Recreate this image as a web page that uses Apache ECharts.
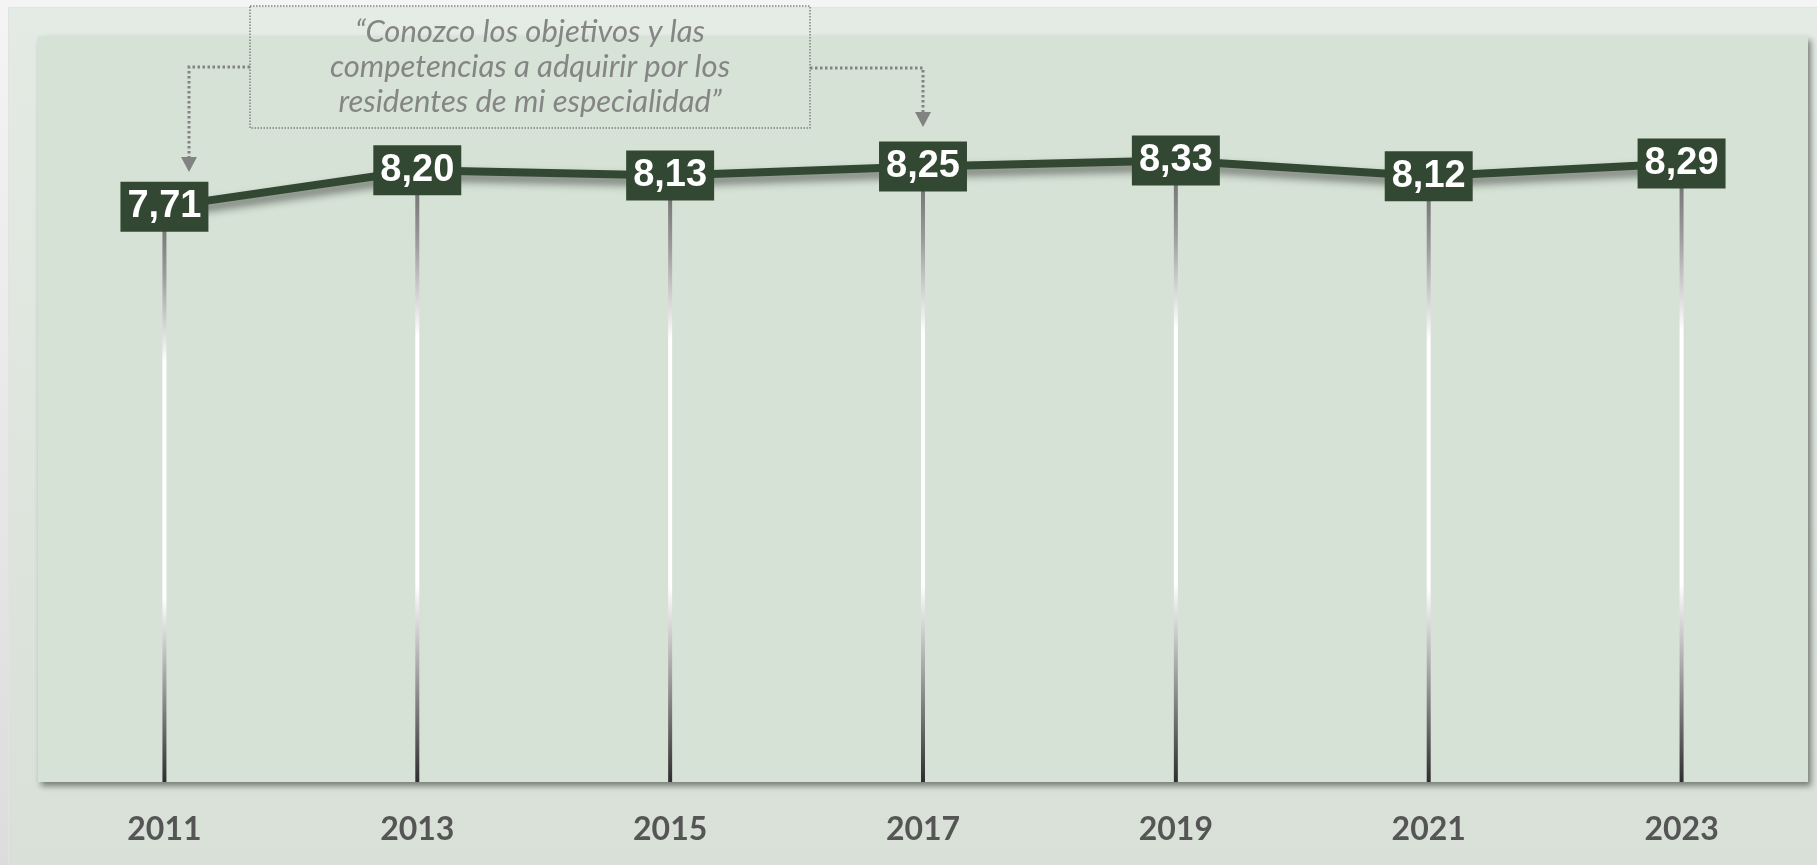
<!DOCTYPE html>
<html>
<head>
<meta charset="utf-8">
<script src="https://cdn.jsdelivr.net/npm/echarts@6/dist/echarts.min.js"></script>
<style>
  html, body { margin: 0; padding: 0; }
  .page {
    position: relative;
    width: 1817px;
    height: 865px;
    background: linear-gradient(to bottom, #f4f4f4, #dcdcdc);
    overflow: hidden;
  }
  .inner {
    position: absolute;
    left: 8px;
    top: 7px;
    right: 0;
    bottom: 0;
    border-top: 1px solid #e2e2e2;
    border-left: 1px solid #e2e2e2;
    background: linear-gradient(to bottom, #e4ebe4, #d8e0d8);
  }
  #chart {
    position: absolute;
    left: 0;
    top: 0;
    width: 1817px;
    height: 865px;
  }
</style>
</head>
<body>
<div class="page">
  <div class="inner"></div>
  <div id="chart"></div>
</div>
<script>
const years = ['2011', '2013', '2015', '2017', '2019', '2021', '2023'];
const scores = [7.71, 8.20, 8.13, 8.25, 8.33, 8.12, 8.29];
const quote = '“Conozco los objetivos y las\ncompetencias a adquirir por los\nresidentes de mi especialidad”';

const darkGreen = '#334832';
const dotted = '#828282';

const chart = echarts.init(document.getElementById('chart'));

const option = {
  backgroundColor: 'transparent',
  animation: false,
  grid: {
    left: 38, right: 9, top: 36, bottom: 83,
    show: true,
    backgroundColor: '#d6e2d6',
    borderWidth: 0,
    shadowColor: 'rgba(0, 0, 0, 0.45)',
    shadowBlur: 6,
    shadowOffsetX: 3,
    shadowOffsetY: 4
  },
  xAxis: {
    type: 'category',
    data: years,
    boundaryGap: true,
    axisLine: { show: false },
    axisTick: { show: false },
    axisLabel: {
      color: '#555555',
      fontFamily: 'Lato',
      fontWeight: 'bold',
      fontSize: 32,
      lineHeight: 32,
      margin: 32
    }
  },
  yAxis: {
    type: 'value',
    min: 0,
    max: 10,
    show: false,
    splitLine: { show: false }
  },
  series: [
    {
      // drop lines from each point to the axis
      type: 'bar',
      data: scores,
      barWidth: 4,
      z: 1,
      itemStyle: {
        color: {
          type: 'linear',
          x: 0, y: 0, x2: 0, y2: 1,
          colorStops: [
            { offset: 0, color: '#666666' },
            { offset: 0.12, color: '#9c9c9c' },
            { offset: 0.27, color: '#ffffff' },
            { offset: 0.68, color: '#ffffff' },
            { offset: 0.86, color: '#8a8a8a' },
            { offset: 1, color: '#2e2e2e' }
          ]
        }
      }
    },
    {
      type: 'line',
      data: scores,
      symbol: 'none',
      z: 3,
      lineStyle: {
        color: darkGreen,
        width: 8,
        shadowColor: 'rgba(0, 0, 0, 0.5)',
        shadowBlur: 8,
        shadowOffsetX: 2,
        shadowOffsetY: 6
      }
    },
    {
      type: 'scatter',
      data: scores,
      symbolSize: 2,
      z: 5,
      itemStyle: { color: 'rgba(0,0,0,0)', opacity: 1 },
      label: {
        show: true,
        position: 'inside',
        formatter: p => p.value.toFixed(2).replace('.', ','),
        color: '#ffffff',
        fontFamily: 'Liberation Sans',
        fontWeight: 'bold',
        fontSize: 38,
        lineHeight: 38,
        backgroundColor: darkGreen,
        padding: [8, 7, 4, 7]
      },
      labelLayout: { hideOverlap: false }
    }
  ],
  graphic: [
    {
      type: 'rect',
      shape: { x: 250, y: 6, width: 560, height: 122 },
      style: { fill: 'rgba(255,255,255,0.04)', stroke: dotted, lineWidth: 1.5, lineDash: [1.5, 1.5] },
      z: 10
    },
    {
      type: 'text',
      x: 530,
      y: 67,
      style: {
        text: quote,
        fill: '#858585',
        font: 'italic 31px Lato',
        lineHeight: 35,
        align: 'center',
        verticalAlign: 'middle'
      },
      z: 10
    },
    {
      type: 'polyline',
      shape: { points: [[250, 67], [189, 67], [189, 158]] },
      style: { stroke: dotted, lineWidth: 3, lineDash: [2.5, 2.5], fill: null },
      z: 10
    },
    {
      type: 'polygon',
      shape: { points: [[181, 157], [197, 157], [189, 172]] },
      style: { fill: dotted },
      z: 10
    },
    {
      type: 'polyline',
      shape: { points: [[810, 68], [923, 68], [923, 112]] },
      style: { stroke: dotted, lineWidth: 3, lineDash: [2.5, 2.5], fill: null },
      z: 10
    },
    {
      type: 'polygon',
      shape: { points: [[915, 112], [931, 112], [923, 127]] },
      style: { fill: dotted },
      z: 10
    }
  ]
};

chart.setOption(option);
</script>
</body>
</html>
